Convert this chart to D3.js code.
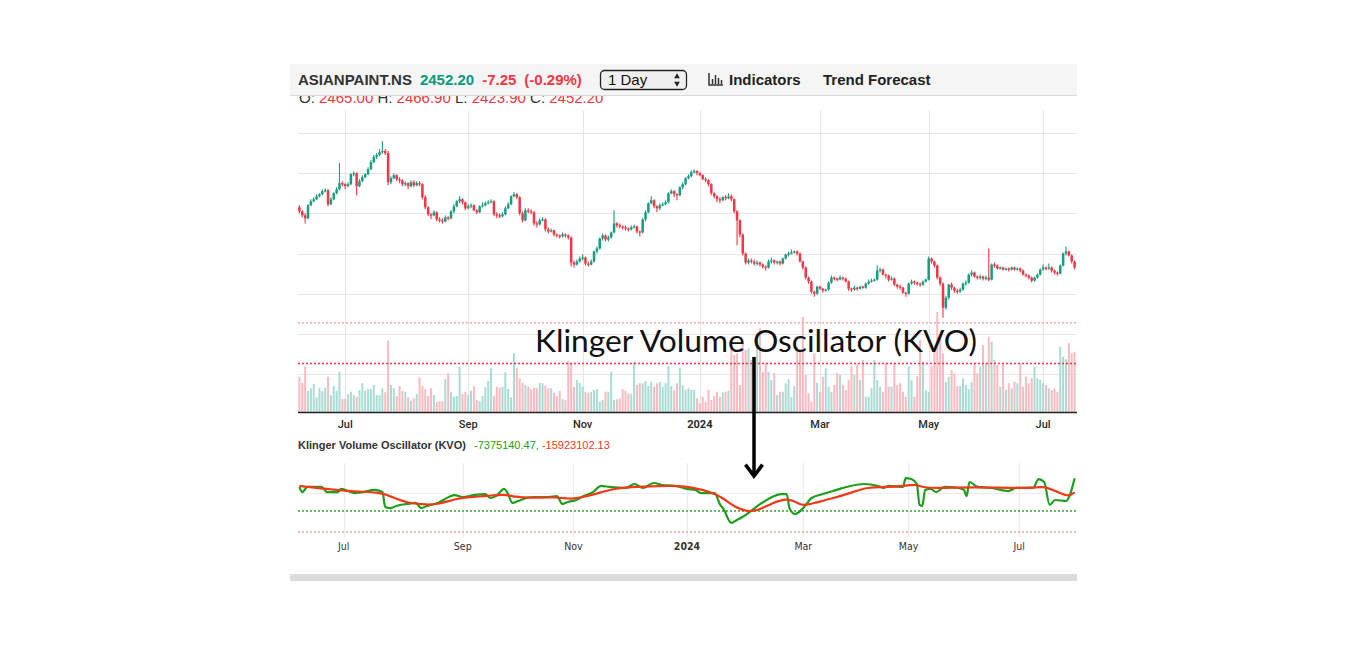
<!DOCTYPE html>
<html>
<head>
<meta charset="utf-8">
<script src="https://cdn.jsdelivr.net/npm/d3@7/dist/d3.min.js"></script>
<style>
	html, body { margin: 0; padding: 0; background: #fff; }
	svg { display: block; }
</style>
</head>
<body>
<svg id="chart" width="1366" height="646"></svg>
<script>

// Data

// trading days per month, Jun 2023 .. Jul 2024
var monthDays = [16, 21, 22, 20, 20, 21, 20, 22, 20, 19, 19, 21, 19, 21];
var tickMonths = [1, 3, 5, 7, 9, 11, 13];
var tickLabels = ["Jul", "Sep", "Nov", "2024", "Mar", "May", "Jul"];

var firstOpen = 3230;
var closes = [
	3210,3190,3175,3240,3260,3270,3285,3295,3310,3315,
	3245,3270,3300,3320,3350,3345,3335,3345,3395,3400,
	3335,3360,3380,3395,3420,3455,3480,3490,3505,3510,
	3500,3355,3375,3390,3370,3365,3345,3350,3335,3355,
	3340,3350,3345,3280,3230,3195,3190,3205,3170,3165,
	3160,3180,3175,3210,3235,3260,3270,3255,3225,3235,
	3240,3215,3205,3235,3240,3250,3255,3260,3195,3190,
	3185,3195,3225,3245,3285,3295,3280,3200,3165,3215,
	3210,3205,3150,3145,3165,3170,3120,3110,3115,3095,
	3090,3085,3095,3090,3080,2955,2945,2960,2975,2980,
	2950,2945,2960,3010,3025,3075,3090,3070,3080,3105,
	3150,3140,3135,3130,3125,3120,3130,3135,3110,3105,
	3170,3205,3250,3265,3235,3225,3240,3245,3255,3300,
	3310,3295,3290,3330,3345,3375,3385,3405,3410,3400,
	3390,3370,3365,3345,3300,3285,3270,3265,3280,3275,
	3285,3270,3210,3165,3095,3000,2955,2965,2960,2950,
	2955,2945,2935,2930,2960,2965,2955,2960,2950,2975,
	2995,3000,3005,3010,3000,2960,2930,2880,2860,2810,
	2800,2835,2825,2815,2820,2855,2880,2875,2870,2880,
	2875,2860,2825,2820,2830,2825,2835,2830,2850,2860,
	2865,2870,2915,2920,2895,2890,2870,2875,2845,2835,
	2830,2805,2800,2850,2860,2855,2850,2845,2860,2870,
	2975,2960,2940,2880,2850,2730,2780,2845,2830,2815,
	2810,2820,2850,2855,2895,2905,2885,2880,2885,2875,
	2880,2870,2945,2940,2925,2930,2920,2925,2920,2930,
	2920,2925,2915,2895,2890,2880,2865,2880,2895,2920,
	2930,2925,2930,2915,2905,2900,2940,3000,3010,2990,
	2960,2930
];
var highs = [
	3240,3215,3200,3245,3270,3280,3295,3300,3320,3325,
	3320,3280,3305,3330,3450,3360,3350,3355,3400,3410,
	3405,3370,3390,3400,3430,3465,3490,3500,3520,3560,
	3520,3510,3385,3400,3395,3380,3370,3360,3355,3365,
	3365,3360,3360,3350,3290,3235,3200,3215,3210,3180,
	3175,3190,3185,3215,3245,3265,3285,3275,3260,3245,
	3250,3245,3220,3240,3255,3260,3265,3270,3265,3205,
	3200,3205,3235,3255,3290,3305,3300,3285,3210,3225,
	3225,3220,3210,3160,3175,3180,3175,3130,3125,3120,
	3100,3095,3105,3100,3095,3085,2965,2970,2985,2995,
	2985,2960,2970,3015,3035,3080,3100,3095,3090,3110,
	3215,3155,3150,3140,3140,3130,3140,3145,3140,3115,
	3175,3215,3255,3285,3270,3240,3250,3255,3265,3305,
	3320,3315,3300,3335,3355,3380,3395,3415,3420,3415,
	3405,3395,3380,3370,3350,3305,3290,3280,3285,3290,
	3300,3295,3275,3215,3170,3100,3005,2975,2975,2970,
	2965,2960,2950,2940,2970,2980,2970,2965,2965,2980,
	3000,3010,3020,3015,3015,3005,2965,2935,2885,2865,
	2815,2840,2840,2830,2825,2860,2890,2885,2880,2890,
	2885,2880,2865,2830,2840,2835,2840,2840,2855,2870,
	2875,2875,2940,2930,2925,2900,2895,2885,2880,2850,
	2845,2835,2810,2855,2870,2865,2860,2855,2865,2875,
	2985,2980,2965,2945,2885,2855,2790,2850,2855,2835,
	2825,2830,2855,2865,2900,2915,2910,2890,2895,2890,
	2890,3025,2950,2955,2945,2935,2935,2930,2930,2935,
	2935,2930,2930,2920,2900,2895,2885,2885,2900,2925,
	2945,2935,2950,2935,2920,2910,2945,3005,3035,3015,
	2995,2965
];
var lows = [
	3200,3180,3150,3170,3235,3255,3265,3280,3290,3305,
	3235,3240,3265,3295,3315,3335,3320,3330,3340,3385,
	3290,3330,3355,3375,3390,3415,3450,3470,3485,3495,
	3490,3340,3345,3370,3360,3350,3335,3335,3320,3330,
	3330,3335,3335,3270,3220,3185,3170,3185,3160,3155,
	3150,3155,3165,3170,3200,3230,3250,3245,3215,3220,
	3225,3210,3195,3200,3230,3235,3245,3250,3185,3175,
	3175,3180,3190,3220,3240,3280,3270,3190,3155,3160,
	3200,3195,3140,3130,3140,3160,3110,3100,3105,3085,
	3080,3075,3080,3080,3070,2935,2930,2940,2955,2965,
	2940,2935,2940,2955,3000,3020,3065,3060,3060,3075,
	3100,3130,3125,3120,3115,3110,3115,3125,3100,3085,
	3100,3160,3200,3245,3225,3205,3215,3235,3240,3250,
	3295,3280,3265,3285,3320,3340,3370,3380,3400,3390,
	3385,3365,3355,3335,3290,3275,3255,3250,3260,3265,
	3270,3260,3200,3040,3080,2990,2945,2945,2950,2940,
	2940,2935,2925,2915,2925,2950,2945,2945,2940,2945,
	2970,2985,2995,3000,2990,2955,2920,2870,2850,2800,
	2785,2795,2820,2805,2810,2815,2850,2865,2860,2865,
	2865,2855,2815,2810,2815,2815,2820,2825,2825,2845,
	2855,2860,2865,2905,2890,2875,2860,2865,2840,2825,
	2820,2800,2785,2795,2845,2845,2840,2835,2840,2855,
	2865,2950,2930,2870,2840,2680,2720,2770,2820,2805,
	2800,2805,2815,2840,2850,2885,2880,2870,2870,2865,
	2865,2860,2865,2930,2920,2920,2915,2915,2910,2915,
	2915,2915,2905,2890,2880,2870,2855,2860,2875,2890,
	2915,2915,2920,2905,2895,2890,2895,2935,2990,2985,
	2950,2920
];
// volume, lakh shares
var volumes = [
	14.1,11.7,18.1,8.5,9.5,11.2,5.9,9.7,8.4,9.7,
	14.1,6.8,10.4,8.5,16.1,5.2,5.2,7.2,8.1,6.8,
	6.1,8.8,11.5,8.5,9.2,9.2,10.8,6.8,6.8,9.5,
	7.9,28.5,10.8,9.5,6.4,10.4,8.4,8.1,5.9,4.5,
	5.5,7.2,13.9,10.4,9.1,6.4,9.5,6.8,4.0,4.3,
	4.3,13.1,15.5,7.9,6.1,6.4,18.1,7.2,8.0,6.8,
	8.5,10.4,4.8,4.4,6.4,9.9,12.4,17.5,6.5,10.1,
	9.7,10.1,15.9,9.2,5.9,23.5,17.5,13.5,11.7,10.8,
	10.1,9.1,9.7,9.5,11.7,11.5,10.5,9.5,9.5,7.7,
	6.4,8.4,5.1,4.8,20.5,19.5,10.1,12.8,11.7,10.1,
	8.1,7.7,8.1,8.8,9.2,4.1,4.8,8.1,8.1,16.1,
	4.8,5.1,5.5,9.1,8.5,7.5,7.2,20.1,10.8,11.5,
	11.5,12.4,10.4,12.1,10.1,11.5,12.1,10.1,11.5,18.4,
	10.4,8.8,11.5,17.7,10.8,8.8,9.5,8.8,
	8.8,5.5,3.5,6.1,4.1,8.8,4.8,6.4,
	8.1,6.1,7.9,8.1,8.5,25.5,22.8,23.5,10.8,27.5,
	24.8,25.5,20.8,22.1,28.8,33.5,16.1,19.5,16.1,12.8,15.5,
	6.8,8.1,8.1,11.5,13.1,
	5.9,10.4,26.1,24.1,38.0,14.8,7.5,4.1,23.5,11.7,8.1,14.1,17.5,10.1,
	8.1,10.8,15.5,14.8,10.8,
	8.8,12.8,18.4,14.8,19.1,12.8,20.8,6.1,6.1,9.5,20.8,12.8,10.1,
	8.1,19.7,10.1,10.1,19.5,10.8,11.5,8.1,
	6.1,18.1,12.8,6.1,14.4,28.8,20.1,8.8,8.1,18.4,25.5,40.0,30.1,23.5,12.1,14.1,16.8,15.5,10.4,10.4,13.5,10.8,
	9.1,12.1,19.5,15.5,18.1,26.8,19.5,30.1,28.1,20.8,18.8,10.1,
	19.5,8.8,11.5,9.5,12.1,11.5,
	19.5,10.1,14.1,11.5,13.5,18.1,13.5,12.8,
	11.5,10.8,9.5,8.8,9.5,8.1,26.1,22.1,21.1,27.5,23.5,24.1
];
var priceGrid = [3600, 3400, 3200, 3000, 2800, 2600, 2400];
var lastPrice = 2452.2;
var alertPrice = 2655;

// KVO and its signal line, millions (day index, value)
var kvoIdx = [0,1,3,8,10,14,15,20,23,27,30,31,33,35,39,42,44,46,50,54,56,59,63,67,69,71,74,75,77,79,82,85,90,93,95,97,100,102,106,109,112,118,121,124,128,131,136,140,143,145,150,152,153,156,158,160,164,166,170,174,176,177,179,182,185,189,194,199,204,209,211,213,218,219,221,223,224,225,226,228,230,233,238,240,241,242,245,250,256,259,265,267,269,271,273,277,278,280];
var kvoVal = [-12.7,-15.8,-12.7,-12.7,-15.8,-15.8,-13.9,-16.4,-15.8,-14.5,-15.8,-24.8,-25.5,-24.2,-23.0,-22.4,-25.5,-24.2,-22.4,-18.8,-17.6,-18.8,-17.6,-17.0,-19.4,-18.2,-13.9,-15.8,-22.4,-21.2,-19.4,-18.8,-18.8,-18.2,-23.0,-21.8,-20.6,-18.8,-15.8,-12.1,-12.7,-13.3,-10.9,-13.3,-10.3,-11.5,-12.1,-13.9,-14.5,-16.4,-16.4,-23.6,-25.5,-34.5,-32.7,-30.9,-26.1,-23.6,-19.4,-17.0,-17.0,-25.5,-29.1,-25.5,-19.4,-17.0,-14.5,-12.1,-10.9,-12.1,-13.3,-12.1,-12.7,-7.3,-7.9,-10.9,-23.6,-24.2,-14.5,-13.9,-15.8,-12.7,-13.3,-14.5,-18.2,-9.7,-12.7,-13.3,-15.2,-13.3,-13.3,-7.9,-9.7,-23.6,-20.6,-21.2,-18.8,-7.4];
var sigIdx = [0,3,10,16,30,34,39,46,51,56,61,68,74,78,83,93,97,101,107,113,119,131,137,141,149,153,157,162,166,171,176,180,182,186,193,199,205,213,218,223,225,233,243,257,265,269,274,278,280];
var sigVal = [-12.1,-12.7,-13.9,-15.2,-15.8,-19.4,-22.4,-23.6,-23.0,-20.0,-18.8,-18.2,-17.0,-18.8,-19.4,-18.8,-20.0,-19.4,-17.0,-13.9,-12.7,-12.1,-12.1,-12.7,-15.8,-19.4,-24.8,-27.9,-26.7,-22.4,-19.4,-22.4,-24.2,-22.4,-19.4,-16.4,-12.7,-12.7,-12.1,-10.9,-13.3,-13.3,-12.7,-13.3,-13.3,-12.1,-15.8,-18.8,-15.9];
var kvoGrid = [-16.4];
var kvoLevels = [-27.3, -40];

// Colours

var upColor = "#1a9c80";
var downColor = "#f23645";
var upVol = "#a9dcd3";
var downVol = "#fbbac1";

// Scales

var svg = d3.select("#chart");
var left = 298, right = 1077;

var opens = closes.map(function(c, i) { return i === 0 ? firstOpen : closes[i - 1]; });

var monthStart = [];
var acc = 0;
for (var m = 0; m < monthDays.length; m++) { monthStart.push(acc); acc += monthDays[m]; }
var totalDays = acc;

var x = d3.scaleBand().domain(d3.range(closes.length)).range([left, 1076]);
var xk = d3.scaleBand().domain(d3.range(totalDays)).range([left, 1076]);
var y = d3.scaleLinear().domain([2400, 3600]).range([374, 133]);
var yv = d3.scaleLinear().domain([0, 40]).range([412, 312]);
var yk = d3.scaleLinear().domain([-40, 0]).range([532, 466]);

function cx(i) { return x(i) + x.bandwidth() / 2; }
function kx(i) { return xk(i) + xk.bandwidth() / 2; }
function crisp(v) { return Math.round(v) + 0.5; }

var tickIdx = tickMonths.map(function(m) { return monthStart[m]; });

svg.append("defs").append("clipPath").attr("id", "clipTop")
	.append("rect").attr("x", left).attr("y", 100).attr("width", right - left).attr("height", 312);

// Upper pane grid

var upper = svg.append("g");

upper.selectAll(".hgrid").data(priceGrid).enter().append("line")
	.attr("x1", left).attr("x2", right)
	.attr("y1", function(d) { return crisp(y(d)); })
	.attr("y2", function(d) { return crisp(y(d)); })
	.attr("stroke", "#e6e6e6").attr("stroke-width", 1.2);

upper.selectAll(".vgrid").data(tickIdx).enter().append("line")
	.attr("x1", function(d) { return crisp(cx(d)); })
	.attr("x2", function(d) { return crisp(cx(d)); })
	.attr("y1", 110).attr("y2", 412)
	.attr("stroke", "#e6e6e6").attr("stroke-width", 1.2);

// Volume

var bars = upper.append("g").attr("clip-path", "url(#clipTop)");

bars.selectAll("rect").data(volumes).enter().append("rect")
	.attr("x", function(d, i) { return cx(i) - 1; })
	.attr("width", 2)
	.attr("y", function(d) { return yv(d); })
	.attr("height", function(d) { return 412 - yv(d); })
	.attr("fill", function(d, i) { return closes[i] >= opens[i] ? upVol : downVol; });

// Price lines

upper.append("line").attr("x1", left).attr("x2", right)
	.attr("y1", y(alertPrice)).attr("y2", y(alertPrice))
	.attr("stroke", "#f7a3aa").attr("stroke-dasharray", "2,2").attr("stroke-width", 1.4);

upper.append("line").attr("x1", left).attr("x2", right)
	.attr("y1", y(lastPrice)).attr("y2", y(lastPrice))
	.attr("stroke", "#f23645").attr("stroke-dasharray", "2,2").attr("stroke-width", 1.4);

// Candles

var candles = upper.append("g").attr("clip-path", "url(#clipTop)");

candles.selectAll(".wick").data(closes).enter().append("line")
	.attr("x1", function(d, i) { return cx(i); })
	.attr("x2", function(d, i) { return cx(i); })
	.attr("y1", function(d, i) { return y(highs[i]); })
	.attr("y2", function(d, i) { return y(lows[i]); })
	.attr("stroke", function(d, i) { return d >= opens[i] ? upColor : downColor; })
	.attr("stroke-width", 1.1);

candles.selectAll(".body").data(closes).enter().append("rect")
	.attr("x", function(d, i) { return cx(i) - 1.25; })
	.attr("width", 2.5)
	.attr("y", function(d, i) { return y(Math.max(d, opens[i])); })
	.attr("height", function(d, i) { return Math.max(1.2, Math.abs(y(d) - y(opens[i]))); })
	.attr("fill", function(d, i) { return d >= opens[i] ? upColor : downColor; });

// Upper axis

upper.append("line").attr("x1", left).attr("x2", right).attr("y1", 412.5).attr("y2", 412.5)
	.attr("stroke", "#222").attr("stroke-width", 1.6);

var axisTop = d3.axisBottom(x).tickValues(tickIdx).tickSize(0)
	.tickFormat(function(d, i) { return tickLabels[i]; });

var gTop = svg.append("g").attr("transform", "translate(0,417)").call(axisTop);
gTop.select(".domain").remove();
gTop.selectAll("text")
	.attr("font-family", "Roboto, 'Liberation Sans', sans-serif")
	.attr("font-size", 11).attr("font-weight", function(d, i) { return tickLabels[i] === "2024" ? 700 : 500; })
	.attr("fill", "#2a2a2a");

// KVO pane

var kvo = svg.append("g");

kvo.append("text").attr("x", left).attr("y", 449)
	.attr("font-family", "'Liberation Sans', Arial, sans-serif").attr("font-size", 11).attr("font-weight", 700)
	.attr("fill", "#333").text("Klinger Volume Oscillator (KVO)");

var legend = kvo.append("text").attr("x", 474).attr("y", 449)
	.attr("font-family", "'Liberation Sans', Arial, sans-serif").attr("font-size", 11);
legend.append("tspan").attr("fill", "#22a022").text("-7375140.47,");
legend.append("tspan").attr("fill", "#f03a17").text(" -15923102.13");

kvo.selectAll(".kvgrid").data(tickIdx).enter().append("line")
	.attr("x1", function(d) { return crisp(kx(d)); })
	.attr("x2", function(d) { return crisp(kx(d)); })
	.attr("y1", 463).attr("y2", 537)
	.attr("stroke", "#ececec").attr("stroke-width", 1.2);

kvo.selectAll(".khgrid").data(kvoGrid).enter().append("line")
	.attr("x1", left).attr("x2", right)
	.attr("y1", function(d) { return crisp(yk(d)); }).attr("y2", function(d) { return crisp(yk(d)); })
	.attr("stroke", "#ececec").attr("stroke-width", 1.2);

kvo.selectAll(".klevel").data(kvoLevels).enter().append("line")
	.attr("x1", left).attr("x2", right)
	.attr("y1", function(d) { return yk(d); }).attr("y2", function(d) { return yk(d); })
	.attr("stroke", function(d, i) { return i === 0 ? "#2aa52a" : "#f6a49c"; })
	.attr("stroke-dasharray", "2,2").attr("stroke-width", 1.4);

var kvoLine = d3.line()
	.x(function(d) { return kx(d[0]); })
	.y(function(d) { return yk(d[1]); })
	.curve(d3.curveMonotoneX);

kvo.append("path").datum(d3.zip(kvoIdx, kvoVal))
	.attr("d", kvoLine).attr("fill", "none")
	.attr("stroke", "#1e9e1e").attr("stroke-width", 2.2).attr("stroke-linejoin", "round");

kvo.append("path").datum(d3.zip(sigIdx, sigVal))
	.attr("d", kvoLine.curve(d3.curveBasis)).attr("fill", "none")
	.attr("stroke", "#f03a17").attr("stroke-width", 2.2);

var axisKvo = d3.axisBottom(xk).tickValues(tickIdx).tickSize(0)
	.tickFormat(function(d, i) { return tickLabels[i]; });

var gKvo = svg.append("g").attr("transform", "translate(0,540)").call(axisKvo);
gKvo.select(".domain").remove();
gKvo.selectAll("text")
	.attr("font-family", "'DejaVu Sans Condensed', 'DejaVu Sans', sans-serif")
	.attr("font-size", 10.5).attr("font-weight", function(d, i) { return tickLabels[i] === "2024" ? 700 : 400; })
	.attr("fill", "#333");

// Scrollbar

svg.append("rect").attr("x", 290).attr("y", 574).attr("width", 787).attr("height", 7).attr("fill", "#dcdcde");

// OHLC line (sits under the header)

var ohlc = svg.append("text").attr("x", 299).attr("y", 103)
	.attr("font-family", "'Liberation Sans', Arial, sans-serif").attr("font-size", 15);
var ohlcParts = [["O: ", "2465.00 "], ["H: ", "2466.90 "], ["L: ", "2423.90 "], ["C: ", "2452.20"]];
ohlcParts.forEach(function(p) {
	ohlc.append("tspan").attr("fill", "#333").text(p[0]);
	ohlc.append("tspan").attr("fill", "#f23645").text(p[1]);
});

// Header

var header = svg.append("g");
header.append("rect").attr("x", 290).attr("y", 64).attr("width", 787).attr("height", 31).attr("fill", "#f5f5f5");
header.append("line").attr("x1", 290).attr("x2", 1077).attr("y1", 95.5).attr("y2", 95.5).attr("stroke", "#dadada");

var title = header.append("text").attr("x", 298).attr("y", 85)
	.attr("font-family", "'Liberation Sans', Arial, sans-serif").attr("font-size", 15).attr("font-weight", 700);
title.append("tspan").attr("fill", "#333").text("ASIANPAINT.NS");
title.append("tspan").attr("fill", "#0b9a7d").attr("dx", 8).text("2452.20");
title.append("tspan").attr("fill", "#f23645").attr("dx", 8).text("-7.25");
title.append("tspan").attr("fill", "#f23645").attr("dx", 8).text("(-0.29%)");

header.append("rect").attr("x", 600.5).attr("y", 70.5).attr("width", 86).attr("height", 19).attr("rx", 4)
	.attr("fill", "#efefef").attr("stroke", "#222").attr("stroke-width", 1.3);
header.append("text").attr("x", 608).attr("y", 85)
	.attr("font-family", "'Liberation Sans', Arial, sans-serif").attr("font-size", 15).attr("fill", "#111").text("1 Day");
header.append("path").attr("d", d3.symbol(d3.symbolTriangle, 14)()).attr("transform", "translate(677,76.5)").attr("fill", "#222");
header.append("path").attr("d", d3.symbol(d3.symbolTriangle, 14)()).attr("transform", "translate(677,83.5) rotate(180)").attr("fill", "#222");

// indicators icon
var icon = header.append("g").attr("stroke", "#333").attr("stroke-width", 1.5).attr("fill", "none");
icon.append("path").attr("d", "M709,73 V85 H723");
icon.append("path").attr("d", "M712.5,84 V79 M715.5,84 V75 M718.5,84 V78 M721.5,84 V80");

header.append("text").attr("x", 729).attr("y", 85)
	.attr("font-family", "'Liberation Sans', Arial, sans-serif").attr("font-size", 15).attr("font-weight", 700)
	.attr("fill", "#222").text("Indicators");
header.append("text").attr("x", 823).attr("y", 85)
	.attr("font-family", "'Liberation Sans', Arial, sans-serif").attr("font-size", 15).attr("font-weight", 700)
	.attr("fill", "#222").text("Trend Forecast");

// Annotation

var note = svg.append("g");
note.append("text").attr("x", 535).attr("y", 351.5)
	.attr("font-family", "Lato, 'Open Sans', sans-serif").attr("font-size", 30)
	.attr("textLength", 442).attr("lengthAdjust", "spacingAndGlyphs")
	.attr("fill", "#111").text("Klinger Volume Oscillator (KVO)");
note.append("line").attr("x1", 754).attr("x2", 754).attr("y1", 357).attr("y2", 475)
	.attr("stroke", "#000").attr("stroke-width", 3.5);
note.append("path").attr("d", "M746.5,466 L754,476 L761.5,466")
	.attr("fill", "none").attr("stroke", "#000").attr("stroke-width", 3.5).attr("stroke-linecap", "square");

</script>
</body>
</html>
